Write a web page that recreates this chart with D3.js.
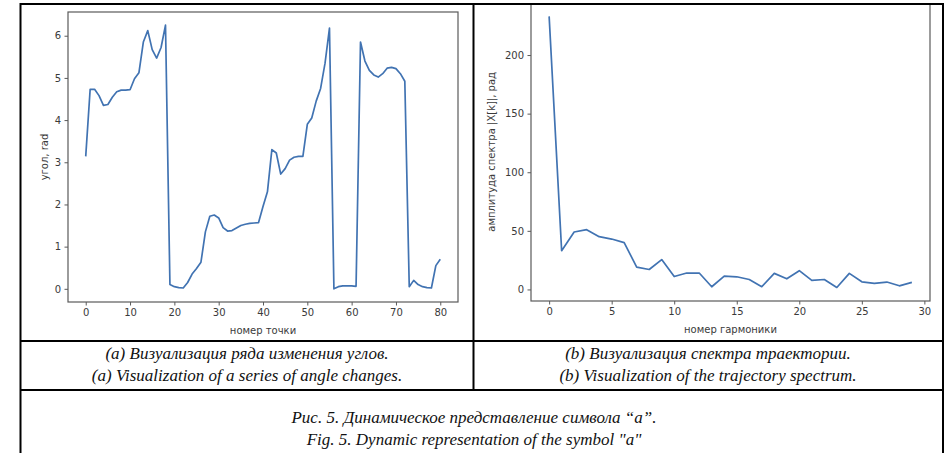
<!DOCTYPE html>
<html>
<head>
<meta charset="utf-8">
<script src="https://cdn.jsdelivr.net/npm/d3@7"></script>
<style>
    body { margin: 0; background: #fff; }
    svg { display: block; }
</style>
</head>
<body>
<svg id="fig" width="948" height="453"></svg>
<script>
// angle series (rad), one value per point index
const angles = [
    3.14, 4.73, 4.73, 4.58, 4.35, 4.37, 4.54, 4.67, 4.71, 4.71,
    4.72, 4.98, 5.12, 5.85, 6.12, 5.67, 5.47, 5.72, 6.25, 0.10,
    0.05, 0.03, 0.02, 0.15, 0.35, 0.48, 0.63, 1.35, 1.72, 1.75,
    1.68, 1.45, 1.37, 1.38, 1.44, 1.50, 1.53, 1.55, 1.56, 1.57,
    1.95, 2.30, 3.30, 3.22, 2.72, 2.85, 3.05, 3.12, 3.14, 3.14,
    3.90, 4.05, 4.45, 4.75, 5.35, 6.18, 0.00, 0.05, 0.07, 0.07,
    0.07, 0.06, 5.85, 5.40, 5.18, 5.07, 5.02, 5.10, 5.23, 5.25,
    5.22, 5.10, 4.92, 0.05, 0.20, 0.10, 0.05, 0.03, 0.02, 0.55,
    0.70
];
// spectrum amplitude |X[k]| per harmonic number
const spectrum = [
    233, 33, 49, 51, 45, 43, 40, 19, 17, 25.5,
    11, 14, 14, 2.3, 11.4, 10.8, 8.5, 2.3, 13.7, 9.1,
    16, 7.7, 8.5, 1.7, 13.7, 6.5, 5.1, 6.3, 3.1, 6.0
];

const angleTicksX = [0, 10, 20, 30, 40, 50, 60, 70, 80];
const angleTicksY = [0, 1, 2, 3, 4, 5, 6];
const specTicksX = [0, 5, 10, 15, 20, 25, 30];
const specTicksY = [0, 50, 100, 150, 200];

const captionsA = ['(a) Визуализация ряда изменения углов.', '(a) Visualization of a series of angle changes.'];
const captionsB = ['(b) Визуализация спектра траектории.', '(b) Visualization of the trajectory spectrum.'];
const figCaption = ['Рис. 5. Динамическое представление символа “a”.', 'Fig. 5. Dynamic representation of the symbol "a"'];

const svg = d3.select('#fig');
svg.append('rect').attr('width', 948).attr('height', 453).attr('fill', '#fff');

const TICK_FONT = 'DejaVu Sans, sans-serif';
const INK = '#3a3a3a';

// matplotlib-like 5% autoscale margin
const padded = (lo, hi) => {
    const m = (hi - lo) * 0.05;
    return [lo - m, hi + m];
};

function drawPanel(opt) {
    const { box, data, xTicks, yTicks, xLabel, yLabel, clip, id } = opt;
    const pts = data.map((v, i) => [i, v]);

    const x = d3.scaleLinear().domain(padded(0, data.length - 1)).range([box.x0, box.x1]);
    const y = d3.scaleLinear().domain(padded(d3.min(data), d3.max(data))).range([box.y1, box.y0]);

    svg.append('clipPath').attr('id', id)
        .append('rect').attr('x', clip.x0).attr('y', clip.y0)
        .attr('width', clip.x1 - clip.x0).attr('height', clip.y1 - clip.y0);

    const g = svg.append('g').attr('clip-path', `url(#${id})`);

    g.append('path')
        .datum(pts)
        .attr('fill', 'none')
        .attr('stroke', '#4173b2')
        .attr('stroke-width', 1.7)
        .attr('stroke-linejoin', 'round')
        .attr('d', d3.line().x(d => x(d[0])).y(d => y(d[1])));

    // spines
    g.append('rect')
        .attr('x', box.x0).attr('y', box.y0)
        .attr('width', box.x1 - box.x0).attr('height', box.y1 - box.y0)
        .attr('fill', 'none').attr('stroke', '#5a5a5a').attr('stroke-width', 1.2);

    const fmt = d3.format('d');
    const xa = g.append('g').attr('transform', `translate(0,${box.y1})`)
        .call(d3.axisBottom(x).tickValues(xTicks).tickFormat(fmt).tickSize(3.5).tickPadding(3.5));
    const ya = g.append('g').attr('transform', `translate(${box.x0},0)`)
        .call(d3.axisLeft(y).tickValues(yTicks).tickFormat(fmt).tickSize(3.5).tickPadding(3.5));

    [xa, ya].forEach(a => {
        a.select('.domain').remove();
        a.selectAll('line').attr('stroke', '#5a5a5a');
        a.selectAll('text').attr('fill', INK).style('font', `10px ${TICK_FONT}`);
    });

    g.append('text')
        .attr('x', (box.x0 + box.x1) / 2).attr('y', box.y1 + 32)
        .attr('text-anchor', 'middle').attr('fill', INK)
        .style('font', `10px ${TICK_FONT}`)
        .text(xLabel);

    g.append('text')
        .attr('transform', `translate(${opt.yLabelX},${(box.y0 + box.y1) / 2}) rotate(-90)`)
        .attr('text-anchor', 'middle').attr('dominant-baseline', 'central')
        .attr('fill', INK)
        .style('font', `10px ${TICK_FONT}`)
        .text(yLabel);
}

drawPanel({
    id: 'clipA',
    box: { x0: 68, x1: 458, y0: 12, y1: 302 },
    clip: { x0: 21, x1: 473, y0: 5, y1: 340 },
    data: angles,
    xTicks: angleTicksX,
    yTicks: angleTicksY,
    xLabel: 'номер точки',
    yLabel: 'угол, rad',
    yLabelX: 44
});

drawPanel({
    id: 'clipB',
    box: { x0: 531, x1: 930, y0: 2.8, y1: 301 },
    clip: { x0: 475, x1: 931, y0: 5, y1: 340 },
    data: spectrum,
    xTicks: specTicksX,
    yTicks: specTicksY,
    xLabel: 'номер гармоники',
    yLabel: 'амплитуда спектра |X[k]|, рад',
    yLabelX: 491
});

// table grid
const grid = svg.append('g').attr('stroke', '#000').attr('stroke-width', 2);
grid.append('line').attr('x1', 20).attr('x2', 944).attr('y1', 4).attr('y2', 4);
grid.append('line').attr('x1', 20.5).attr('x2', 20.5).attr('y1', 3).attr('y2', 453);
grid.append('line').attr('x1', 943).attr('x2', 943).attr('y1', 3).attr('y2', 453);
grid.append('line').attr('x1', 473.5).attr('x2', 473.5).attr('y1', 4).attr('y2', 390);
grid.append('line').attr('x1', 20).attr('x2', 944).attr('y1', 341).attr('y2', 341);
grid.append('line').attr('x1', 20).attr('x2', 944).attr('y1', 390).attr('y2', 390);

const caption = (lines, cx, ys) => {
    svg.append('g').selectAll('text').data(lines).join('text')
        .attr('x', cx).attr('y', (d, i) => ys[i])
        .attr('text-anchor', 'middle')
        .attr('fill', '#111')
        .style('font', 'italic 17px "Liberation Serif", "Times New Roman", serif')
        .text(d => d);
};
caption(captionsA, 247, [359, 381]);
caption(captionsB, 708, [359, 381]);
caption(figCaption, 474, [423, 445]);
</script>
</body>
</html>
